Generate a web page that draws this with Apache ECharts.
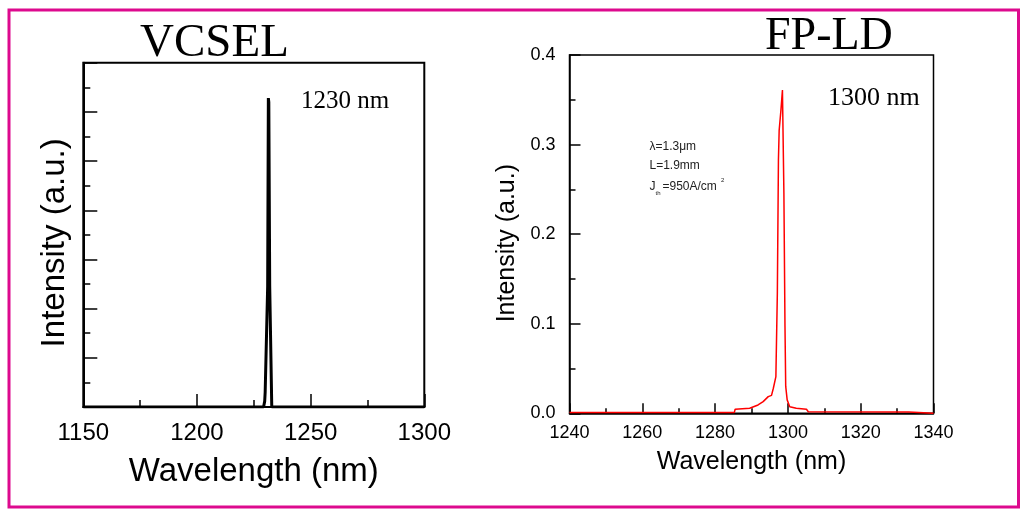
<!DOCTYPE html>
<html>
<head>
<meta charset="utf-8">
<script src="https://cdn.jsdelivr.net/npm/echarts/dist/echarts.min.js"></script>
<style>
  html, body { margin: 0; padding: 0; background: #fff; }
  #chart { width: 1023px; height: 509px; }
</style>
</head>
<body>
<div id="chart"></div>
<script>
// VCSEL spectrum (left), arbitrary units
const vcselWl  = [1150, 1229.3, 1229.8, 1230.0, 1231.1, 1231.4, 1231.6, 1232.0, 1232.9, 1300]
const vcselInt = [0, 0, 0.12, 0.3, 2.45, 6.28, 6.2, 2.45, 0, 0]

// FP-LD spectrum (right)
const fpWl  = [1240, 1285.3, 1285.5, 1289.5, 1290, 1291.8, 1293.2, 1294.6, 1295.5, 1296, 1296.7, 1297.1, 1297.4, 1297.6,
  1298.1, 1298.5, 1298.7, 1298.9, 1299.2, 1299.4, 1299.8, 1300.5, 1302.3, 1305.1, 1305.6, 1333.2, 1333.5, 1340]
const fpInt = [0.001, 0.001, 0.0045, 0.0056, 0.0074, 0.0093, 0.013, 0.0186, 0.020, 0.028, 0.041, 0.134, 0.283, 0.316,
  0.339, 0.361, 0.361, 0.246, 0.097, 0.030, 0.015, 0.0074, 0.0056, 0.0045, 0.0018, 0.0015, 0, 0]

// tick labels
const vcselXTicks = [1150, 1200, 1250, 1300]
const fpXTicks = [1240, 1260, 1280, 1300, 1320, 1340]
const fpYTicks = ['0.0', '0.1', '0.2', '0.3', '0.4']

const zip = (a, b) => a.map((v, i) => [v, b[i]])
const sans = 'Liberation Sans, Arial, sans-serif'
const serif = 'Liberation Serif, Times New Roman, serif'

const chart = echarts.init(document.getElementById('chart'), null, { renderer: 'canvas' })

chart.setOption({
  animation: false,
  backgroundColor: '#fff',
  grid: [
    { left: 83.3, top: 62.7, width: 341, height: 344.3, show: true, borderColor: '#000', borderWidth: 2, backgroundColor: 'transparent' },
    { left: 569.5, top: 55, width: 364, height: 358.3, show: true, borderColor: '#000', borderWidth: 1.5, backgroundColor: 'transparent' }
  ],
  xAxis: [{
    gridIndex: 0,
    type: 'value',
    min: vcselXTicks[0],
    max: vcselXTicks[vcselXTicks.length - 1],
    interval: vcselXTicks[1] - vcselXTicks[0],
    name: 'Wavelength (nm)',
    nameLocation: 'middle',
    nameGap: 48,
    nameTextStyle: { fontFamily: sans, fontSize: 33, color: '#000' },
    axisLine: { lineStyle: { color: '#000', width: 2 } },
    axisTick: { inside: true, length: 13, lineStyle: { color: '#000', width: 1.5 } },
    minorTick: { show: true, splitNumber: 2, length: 7, lineStyle: { color: '#000', width: 1.5 } },
    axisLabel: { fontFamily: sans, fontSize: 24, color: '#000', margin: 14, formatter: v => String(v) },
    splitLine: { show: false }
  }, {
    gridIndex: 1,
    type: 'value',
    min: fpXTicks[0],
    max: fpXTicks[fpXTicks.length - 1],
    interval: fpXTicks[1] - fpXTicks[0],
    name: 'Wavelength (nm)',
    nameLocation: 'middle',
    nameGap: 36,
    nameTextStyle: { fontFamily: sans, fontSize: 25, color: '#000' },
    axisLine: { lineStyle: { color: '#000', width: 1.5 } },
    axisTick: { inside: true, length: 10, lineStyle: { color: '#000', width: 1.5 } },
    minorTick: { show: true, splitNumber: 2, length: 5, lineStyle: { color: '#000', width: 1.5 } },
    axisLabel: { fontFamily: sans, fontSize: 18, color: '#000', margin: 11, formatter: v => String(v) },
    splitLine: { show: false }
  }],
  yAxis: [{
    gridIndex: 0,
    type: 'value',
    min: 0,
    max: 7,
    interval: 1,
    name: 'Intensity (a.u.)',
    nameLocation: 'middle',
    nameGap: 12,
    nameTextStyle: { fontFamily: sans, fontSize: 33, color: '#000', padding: [0, 16, 0, 0] },
    axisLine: { lineStyle: { color: '#000', width: 2 } },
    axisTick: { inside: true, length: 14, lineStyle: { color: '#000', width: 1.5 } },
    minorTick: { show: true, splitNumber: 2, length: 7, lineStyle: { color: '#000', width: 1.5 } },
    axisLabel: { show: false },
    splitLine: { show: false }
  }, {
    gridIndex: 1,
    type: 'value',
    min: 0,
    max: 0.4,
    interval: 0.1,
    name: 'Intensity (a.u.)',
    nameLocation: 'middle',
    nameGap: 50,
    nameTextStyle: { fontFamily: sans, fontSize: 25, color: '#000', padding: [0, 18, 0, 0] },
    axisLine: { lineStyle: { color: '#000', width: 1.5 } },
    axisTick: { inside: true, length: 11, lineStyle: { color: '#000', width: 1.5 } },
    minorTick: { show: true, splitNumber: 2, length: 6, lineStyle: { color: '#000', width: 1.5 } },
    axisLabel: {
      fontFamily: sans, fontSize: 18, color: '#000', margin: 14,
      formatter: v => fpYTicks[Math.round(v * 10)]
    },
    splitLine: { show: false }
  }],
  series: [{
    type: 'line',
    xAxisIndex: 0,
    yAxisIndex: 0,
    data: zip(vcselWl, vcselInt),
    showSymbol: false,
    lineStyle: { color: '#000', width: 3 }
  }, {
    type: 'line',
    xAxisIndex: 1,
    yAxisIndex: 1,
    data: zip(fpWl, fpInt),
    showSymbol: false,
    lineStyle: { color: '#ff0000', width: 1.5 }
  }],
  graphic: [
    // 外框
    { type: 'rect', shape: { x: 9, y: 10, width: 1009.5, height: 497 }, style: { fill: 'none', stroke: '#dd0a8e', lineWidth: 3 } },
    { type: 'text', x: 140, y: 44, style: { text: 'VCSEL', font: '47px ' + serif, fill: '#000', verticalAlign: 'middle' } },
    { type: 'text', x: 765, y: 37, style: { text: 'FP-LD', font: '46px ' + serif, fill: '#000', verticalAlign: 'middle' } },
    { type: 'text', x: 301, y: 101.5, style: { text: '1230 nm', font: '25px ' + serif, fill: '#000', verticalAlign: 'middle' } },
    { type: 'text', x: 828, y: 98, style: { text: '1300 nm', font: '26px ' + serif, fill: '#000', verticalAlign: 'middle' } },
    { type: 'text', x: 649.5, y: 147, style: { text: 'λ=1.3μm', font: '12px ' + sans, fill: '#222', verticalAlign: 'middle' } },
    { type: 'text', x: 649.5, y: 166, style: { text: 'L=1.9mm', font: '12px ' + sans, fill: '#222', verticalAlign: 'middle' } },
    { type: 'text', x: 649.5, y: 187, style: { text: 'J', font: '12px ' + sans, fill: '#222', verticalAlign: 'middle' } },
    { type: 'text', x: 655.5, y: 193.5, style: { text: 'th', font: '6px ' + sans, fill: '#222', verticalAlign: 'middle' } },
    { type: 'text', x: 662.5, y: 187, style: { text: '=950A/cm', font: '12px ' + sans, fill: '#222', verticalAlign: 'middle' } },
    { type: 'text', x: 721, y: 180, style: { text: '2', font: '6px ' + sans, fill: '#222', verticalAlign: 'middle' } }
  ]
})
</script>
</body>
</html>
